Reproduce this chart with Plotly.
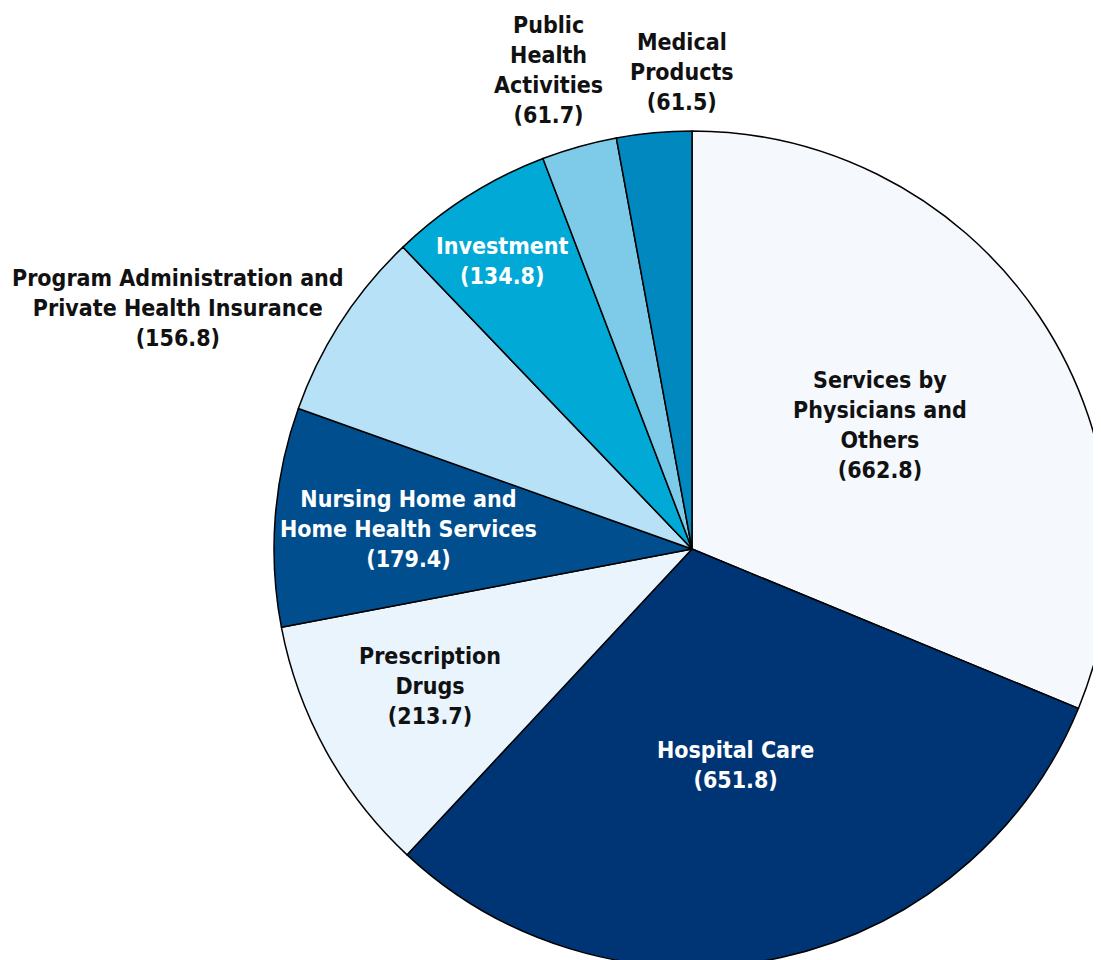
"""Pie chart of national health spending by category (billions)."""

import plotly.graph_objects as go

CATEGORIES = [
    "Services by<br>Physicians and<br>Others",
    "Hospital Care",
    "Prescription<br>Drugs",
    "Nursing Home and<br>Home Health Services",
    "Program Administration and<br>Private Health Insurance",
    "Investment",
    "Public<br>Health<br>Activities",
    "Medical<br>Products",
]
VALUES = [662.8, 651.8, 213.7, 179.4, 156.8, 134.8, 61.7, 61.5]

COLORS = ["#F5F9FE", "#003575", "#E9F4FD", "#004E8E",
          "#B7E1F6", "#00A9D6", "#7ECBE9", "#0088BF"]
TEXT_COLORS = ["#111111", "#FFFFFF", "#111111", "#FFFFFF",
               "#111111", "#FFFFFF", "#111111", "#111111"]
# label centres in screen pixels (x, y from top)
LABEL_POS = [(880, 425), (735, 765), (430, 686), (408, 529),
             (178, 308), (502, 261), (548, 70), (682, 72)]

PAGE_OFFSET = 8  # default body margin of the html page
W, H = 1110, 967
CX, CY, R = 692 - PAGE_OFFSET, 549 - PAGE_OFFSET, 418
FONT = "Liberation Sans Narrow, DejaVu Sans Condensed, Roboto, sans-serif"

fig = go.Figure(
    go.Pie(
        labels=CATEGORIES,
        values=VALUES,
        sort=False,
        direction="clockwise",
        rotation=0,
        marker=dict(colors=COLORS, line=dict(color="#000000", width=1.5)),
        textinfo="none",
        hoverinfo="skip",
        domain=dict(x=[(CX - R) / W, (CX + R) / W], y=[1 - (CY + R) / H, 1 - (CY - R) / H]),
    )
)

for name, value, (px, py), tc in zip(CATEGORIES, VALUES, LABEL_POS, TEXT_COLORS):
    fig.add_annotation(
        x=(px - PAGE_OFFSET) / W,
        y=1 - (py - PAGE_OFFSET) / H,
        xref="paper",
        yref="paper",
        text=f"<b>{name}<br>({value:.1f})</b>",
        showarrow=False,
        xanchor="center",
        yanchor="middle",
        align="center",
        font=dict(family=FONT, size=23, color=tc),
    )

fig.update_layout(
    width=W,
    height=H,
    margin=dict(l=0, r=0, t=0, b=0),
    paper_bgcolor="#FFFFFF",
    plot_bgcolor="#FFFFFF",
    showlegend=False,
)

fig.write_html("out.html")
